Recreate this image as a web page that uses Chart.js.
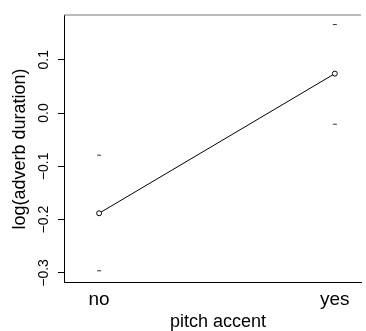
<!DOCTYPE html>
<html>
<head>
<meta charset="utf-8">
<script src="https://cdn.jsdelivr.net/npm/chart.js@4/dist/chart.umd.min.js"></script>
<style>
  html, body { margin: 0; padding: 0; background: #fff; }
  #wrap { width: 366px; height: 331px; }
</style>
</head>
<body>
<div id="wrap"><canvas id="c"></canvas></div>
<script>
// data
const categories = ['no', 'yes'];
const catPos = [1, 2];
const means = [-0.188, 0.074];
const upper = [-0.079, 0.166];
const lower = [-0.296, -0.021];
const yTicks = [-0.3, -0.2, -0.1, 0.0, 0.1];

const toPts = vals => vals.map((v, i) => ({ x: catPos[i], y: v }));
const font = 'Liberation Sans, Arial, Helvetica, sans-serif';

// rotated y labels, axis titles and top border like the R plot
const rPlot = {
  id: 'rPlot',
  afterDraw(chart) {
    const ctx = chart.ctx;
    const a = chart.chartArea;
    const y = chart.scales.y;
    ctx.save();
    ctx.strokeStyle = '#777';
    ctx.lineWidth = 1;
    ctx.beginPath();
    ctx.moveTo(a.left, a.top);
    ctx.lineTo(a.right, a.top);
    ctx.stroke();

    ctx.fillStyle = '#000';
    ctx.textAlign = 'center';
    ctx.textBaseline = 'middle';
    ctx.font = '14px ' + font;
    yTicks.forEach(t => {
      const py = y.getPixelForValue(t);
      const s = t.toFixed(1).replace('-', '\u2212');
      ctx.save();
      ctx.translate(44, py);
      ctx.rotate(-Math.PI / 2);
      ctx.fillText(s, 0, 0);
      ctx.restore();
    });
    ctx.font = '18px ' + font;
    ctx.save();
    ctx.translate(20, 149);
    ctx.rotate(-Math.PI / 2);
    ctx.fillText('log(adverb duration)', 0, 0);
    ctx.restore();
    ctx.fillText('pitch accent', 218, 322);
    ctx.restore();
  }
};

new Chart(document.getElementById('c'), {
  type: 'scatter',
  data: {
    datasets: [{
      data: toPts(means),
      showLine: true,
      borderColor: '#000',
      borderWidth: 1,
      pointRadius: 2.5,
      pointBorderWidth: 1,
      pointBackgroundColor: '#fff',
      pointBorderColor: '#000'
    }, {
      data: toPts(upper),
      pointStyle: 'line',
      pointRadius: 2,
      borderWidth: 1,
      borderColor: '#333'
    }, {
      data: toPts(lower),
      pointStyle: 'line',
      pointRadius: 2,
      borderWidth: 1,
      borderColor: '#333'
    }]
  },
  options: {
    responsive: true,
    maintainAspectRatio: false,
    animation: false,
    layout: { padding: { top: 15, right: 0, left: 0, bottom: 0 } },
    plugins: { legend: { display: false }, tooltip: { enabled: false } },
    scales: {
      x: {
        type: 'linear',
        min: 0.851,
        max: 2.111,
        afterBuildTicks: s => { s.ticks = catPos.map(v => ({ value: v })); },
        afterFit: s => { s.height = 49; },
        grid: { display: false },
        border: { display: true, color: '#000', width: 1 },
        ticks: {
          color: '#000',
          padding: -2,
          font: { family: font, size: 19 },
          callback: v => categories[catPos.indexOf(v)]
        }
      },
      y: {
        min: -0.317,
        max: 0.184,
        afterBuildTicks: s => { s.ticks = yTicks.map(v => ({ value: v })); },
        afterFit: s => { s.width = 64; },
        grid: { drawOnChartArea: false, tickLength: 6, color: '#000' },
        border: { display: true, color: '#000', width: 1 },
        ticks: { display: false }
      }
    }
  },
  plugins: [rPlot]
});
</script>
</body>
</html>
